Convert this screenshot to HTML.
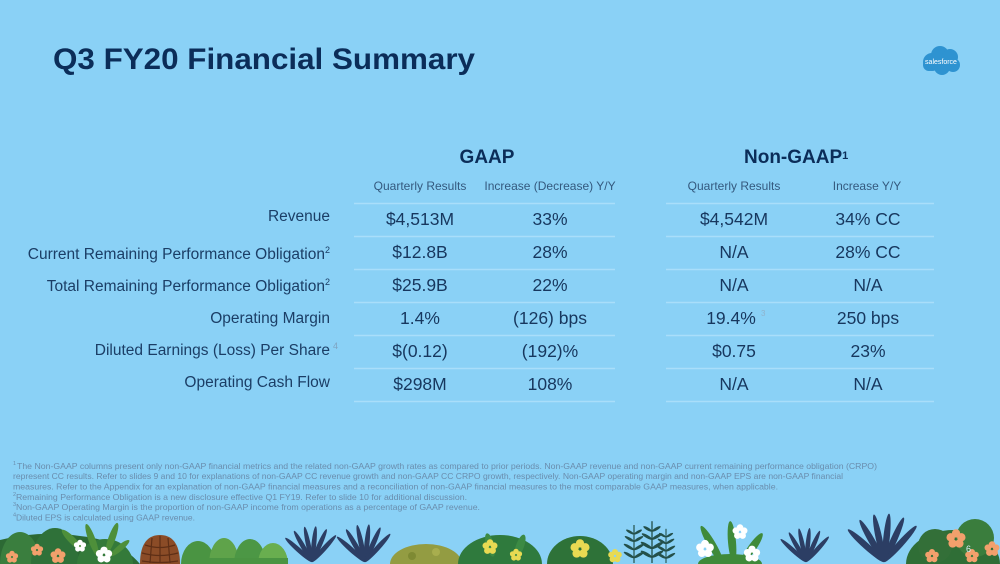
<!DOCTYPE html>
<html><head><meta charset="utf-8"><style>
html,body{margin:0;padding:0;width:1000px;height:564px;overflow:hidden;}
body{background:#8AD1F6;position:relative;}
svg{display:block;position:absolute;left:0;top:0;}
text{font-family:"Liberation Sans",sans-serif;}
</style></head><body>
<svg width="1000" height="564" viewBox="0 0 1000 564" xmlns="http://www.w3.org/2000/svg">
<defs>
<g id="fan">
<ellipse cx="0" cy="-18" rx="2.4" ry="18" transform="rotate(-48)"/>
<ellipse cx="0" cy="-18" rx="2.4" ry="18" transform="rotate(-30)"/>
<ellipse cx="0" cy="-18" rx="2.4" ry="18" transform="rotate(-12)"/>
<ellipse cx="0" cy="-18" rx="2.4" ry="18" transform="rotate(6)"/>
<ellipse cx="0" cy="-18" rx="2.4" ry="18" transform="rotate(24)"/>
<ellipse cx="0" cy="-18" rx="2.4" ry="18" transform="rotate(42)"/>
</g>
<g id="flw">
<circle cx="0" cy="-4" r="3"/><circle cx="3.8" cy="-1.2" r="3"/><circle cx="2.4" cy="3.2" r="3"/><circle cx="-2.4" cy="3.2" r="3"/><circle cx="-3.8" cy="-1.2" r="3"/>
</g>
<g id="fern">
<line x1="0" y1="0" x2="0" y2="-38" stroke="#24504A" stroke-width="1.2"/>
<g fill="#24504A">
<ellipse cx="-5" cy="-8" rx="6" ry="1.5" transform="rotate(30 -5 -8)"/>
<ellipse cx="5" cy="-8" rx="6" ry="1.5" transform="rotate(-30 5 -8)"/>
<ellipse cx="-5" cy="-16" rx="6" ry="1.5" transform="rotate(30 -5 -16)"/>
<ellipse cx="5" cy="-16" rx="6" ry="1.5" transform="rotate(-30 5 -16)"/>
<ellipse cx="-4.5" cy="-24" rx="5.5" ry="1.4" transform="rotate(30 -4.5 -24)"/>
<ellipse cx="4.5" cy="-24" rx="5.5" ry="1.4" transform="rotate(-30 4.5 -24)"/>
<ellipse cx="-4" cy="-31" rx="4.5" ry="1.3" transform="rotate(30 -4 -31)"/>
<ellipse cx="4" cy="-31" rx="4.5" ry="1.3" transform="rotate(-30 4 -31)"/>
</g>
</g>
</defs>

<!-- Title -->
<text x="53" y="69" font-size="30" font-weight="bold" fill="#0B2D59" textLength="422" lengthAdjust="spacingAndGlyphs">Q3 FY20 Financial Summary</text>

<!-- Logo -->
<g fill="#2E93D1">
<circle cx="932" cy="62" r="9"/><circle cx="940" cy="55" r="9"/><circle cx="950" cy="57" r="8"/><circle cx="953" cy="65" r="7"/><circle cx="942" cy="67" r="8"/><circle cx="929" cy="65" r="6"/>
</g>
<text x="941" y="64" font-size="7" fill="#ffffff" text-anchor="middle">salesforce</text>

<!-- Headers -->
<text x="487" y="163" font-size="19" font-weight="bold" fill="#0B2D59" text-anchor="middle">GAAP</text>
<text x="744" y="163" font-size="19" font-weight="bold" fill="#0B2D59">Non-GAAP<tspan font-size="11" dy="-4" font-weight="bold">1</tspan></text>

<g font-size="12" fill="#34597E" text-anchor="middle">
<text x="420" y="190">Quarterly Results</text>
<text x="550" y="190">Increase (Decrease) Y/Y</text>
<text x="734" y="190">Quarterly Results</text>
<text x="867" y="190">Increase Y/Y</text>
</g>

<!-- Row lines -->
<g stroke="#A9DEFA" stroke-width="1.5">
<line x1="354" y1="203.5" x2="615" y2="203.5"/><line x1="666" y1="203.5" x2="934" y2="203.5"/>
<line x1="354" y1="236.5" x2="615" y2="236.5"/><line x1="666" y1="236.5" x2="934" y2="236.5"/>
<line x1="354" y1="269.5" x2="615" y2="269.5"/><line x1="666" y1="269.5" x2="934" y2="269.5"/>
<line x1="354" y1="302.5" x2="615" y2="302.5"/><line x1="666" y1="302.5" x2="934" y2="302.5"/>
<line x1="354" y1="335.5" x2="615" y2="335.5"/><line x1="666" y1="335.5" x2="934" y2="335.5"/>
<line x1="354" y1="368.5" x2="615" y2="368.5"/><line x1="666" y1="368.5" x2="934" y2="368.5"/>
<line x1="354" y1="401.5" x2="615" y2="401.5"/><line x1="666" y1="401.5" x2="934" y2="401.5"/>
</g>

<!-- Labels -->
<g font-size="15.5" fill="#1B3E66" text-anchor="end">
<text x="330" y="221">Revenue</text>
<text x="330" y="259">Current Remaining Performance Obligation<tspan font-size="9" dy="-6">2</tspan></text>
<text x="330" y="291">Total Remaining Performance Obligation<tspan font-size="9" dy="-6">2</tspan></text>
<text x="330" y="323">Operating Margin</text>
<text x="330" y="355">Diluted Earnings (Loss) Per Share</text>
<text x="330" y="387">Operating Cash Flow</text>
</g>
<text x="333" y="349" font-size="9" fill="#7FA3C0">4</text>

<!-- Values -->
<g font-size="17.5" fill="#17375E" text-anchor="middle">
<text x="420" y="225">$4,513M</text><text x="550" y="225">33%</text>
<text x="734" y="225">$4,542M</text><text x="868" y="225">34% CC</text>
<text x="420" y="258">$12.8B</text><text x="550" y="258">28%</text>
<text x="734" y="258">N/A</text><text x="868" y="258">28% CC</text>
<text x="420" y="291">$25.9B</text><text x="550" y="291">22%</text>
<text x="734" y="291">N/A</text><text x="868" y="291">N/A</text>
<text x="420" y="324">1.4%</text><text x="550" y="324">(126) bps</text>
<text x="731" y="324">19.4%</text><text x="868" y="324">250 bps</text>
<text x="420" y="357">$(0.12)</text><text x="550" y="357">(192)%</text>
<text x="734" y="357">$0.75</text><text x="868" y="357">23%</text>
<text x="420" y="390">$298M</text><text x="550" y="390">108%</text>
<text x="734" y="390">N/A</text><text x="868" y="390">N/A</text>
</g>
<text x="761" y="316" font-size="8" fill="#8FB3CC">3</text>

<!-- Footnotes -->
<g font-size="8.6" fill="#6A8DAD">
<text x="13" y="465" font-size="5.5">1</text>
<text x="17" y="469" textLength="860" lengthAdjust="spacingAndGlyphs">The Non-GAAP columns present only non-GAAP financial metrics and the related non-GAAP growth rates as compared to prior periods. Non-GAAP revenue and non-GAAP current remaining performance obligation (CRPO)</text>
<text x="13" y="479" textLength="830" lengthAdjust="spacingAndGlyphs">represent CC results. Refer to slides 9 and 10 for explanations of non-GAAP CC revenue growth and non-GAAP CC CRPO growth, respectively. Non-GAAP operating margin and non-GAAP EPS are non-GAAP financial</text>
<text x="13" y="489.5" textLength="765" lengthAdjust="spacingAndGlyphs">measures. Refer to the Appendix for an explanation of non-GAAP financial measures and a reconciliation of non-GAAP financial measures to the most comparable GAAP measures, when applicable.</text>
<text x="13" y="496" font-size="5.5">2</text>
<text x="16" y="500" textLength="451" lengthAdjust="spacingAndGlyphs">Remaining Performance Obligation is a new disclosure effective Q1 FY19. Refer to slide 10 for additional discussion.</text>
<text x="13" y="506" font-size="5.5">3</text>
<text x="16" y="510" textLength="464" lengthAdjust="spacingAndGlyphs">Non-GAAP Operating Margin is the proportion of non-GAAP income from operations as a percentage of GAAP revenue.</text>
<text x="13" y="516.5" font-size="5.5">4</text>
<text x="16" y="520.5" textLength="179" lengthAdjust="spacingAndGlyphs">Diluted EPS is calculated using GAAP revenue.</text>
</g>

<!-- Plants (all kept within frame) -->
<path d="M0 564 L0 540 Q40 530 80 536 Q120 540 140 564 Z" fill="#2C6934"/>
<path d="M0 564 A20 32 0 0 1 40 564 Z" fill="#3A7E3E"/>
<path d="M31 564 A24 36 0 0 1 79 564 Z" fill="#2F7139"/>
<path d="M77 564 A28 25 0 0 1 133 564 Z" fill="#347A3A"/>
<g fill="#4E8F3A">
<ellipse cx="92" cy="540" rx="3.5" ry="17" transform="rotate(-20 92 540)"/>
<ellipse cx="112" cy="538" rx="3.5" ry="16" transform="rotate(20 112 538)"/>
<ellipse cx="72" cy="540" rx="3.5" ry="14" transform="rotate(-45 72 540)"/>
<ellipse cx="120" cy="548" rx="3" ry="12" transform="rotate(50 120 548)"/>
</g>
<g fill="#F2A06C">
<use href="#flw" transform="translate(12 557) scale(0.9)"/>
<use href="#flw" transform="translate(37 550) scale(0.9)"/>
<use href="#flw" transform="translate(58 556) scale(1.1)"/>
</g>
<g fill="#FFFFFF">
<use href="#flw" transform="translate(80 546) scale(0.9)"/>
<use href="#flw" transform="translate(104 555) scale(1.2)"/>
</g>
<path d="M140 564 C140 542 149 535 160 535 C171 535 180 542 180 564 Z" fill="#8B4C27"/>
<g stroke="#5E2F16" stroke-width="1.2" fill="none">
<path d="M145 545 Q160 550 175 545"/><path d="M142 553 Q160 558 178 553"/><path d="M142 561 Q160 564 178 561"/>
<path d="M152 538 L150 563"/><path d="M160 536 L160 563"/><path d="M168 538 L170 563"/>
</g>
<path d="M181 564 A17 23 0 0 1 215 564 Z" fill="#4A9442"/>
<path d="M209 564 A15 26 0 0 1 239 564 Z" fill="#5FA34A"/>
<path d="M234 564 A16 25 0 0 1 266 564 Z" fill="#4C9745"/>
<path d="M258 564 A15 21 0 0 1 288 564 Z" fill="#69AE4F"/>
<rect x="182" y="558" width="106" height="6" fill="#4A9442"/>
<g fill="#2C3E64">
<use href="#fan" transform="translate(312 562)"/>
<use href="#fan" transform="translate(365 562) scale(1.05)"/>
<use href="#fan" transform="translate(806 562) scale(0.95)"/>
<use href="#fan" transform="translate(884 562) scale(1.35)"/>
</g>
<path d="M390 564 A36 20 0 0 1 462 564 Z" fill="#939C42"/>
<circle cx="412" cy="556" r="4" fill="#7E8A33"/><circle cx="436" cy="552" r="4" fill="#A8AE4E"/>
<path d="M458 564 A42 29 0 0 1 542 564 Z" fill="#2F7A3D"/>
<ellipse cx="490" cy="545" rx="4" ry="12" fill="#3C8A44" transform="rotate(-15 490 545)"/>
<ellipse cx="520" cy="546" rx="4" ry="12" fill="#3C8A44" transform="rotate(20 520 546)"/>
<path d="M547 564 A33 28 0 0 1 613 564 Z" fill="#2E7238"/>
<g fill="#E8DA52">
<use href="#flw" transform="translate(490 547) scale(1.1)"/>
<use href="#flw" transform="translate(516 555) scale(0.9)"/>
<use href="#flw" transform="translate(580 549) scale(1.4)"/>
<use href="#flw" transform="translate(615 556) scale(1.0)"/>
</g>
<use href="#fern" transform="translate(634 563)"/>
<use href="#fern" transform="translate(652 563) scale(1.1)"/>
<use href="#fern" transform="translate(666 563) scale(0.9)"/>
<g fill="#3F8A3A">
<ellipse cx="712" cy="545" rx="4" ry="22" transform="rotate(-30 712 545)"/>
<ellipse cx="732" cy="542" rx="4" ry="21" transform="rotate(-5 732 542)"/>
<ellipse cx="752" cy="548" rx="4" ry="18" transform="rotate(35 752 548)"/>
<path d="M698 564 A32 10 0 0 1 762 564 Z"/>
</g>
<g fill="#FFFFFF">
<use href="#flw" transform="translate(705 549) scale(1.3)"/>
<use href="#flw" transform="translate(740 532) scale(1.1)"/>
<use href="#flw" transform="translate(752 554) scale(1.2)"/>
</g>
<path d="M906 564 A47 34 0 0 1 1000 564 Z" fill="#2F6E36"/>
<circle cx="975" cy="538" r="19" fill="#3A7D3D"/>
<circle cx="935" cy="546" r="17" fill="#336F38"/>
<g fill="#F2A06C">
<use href="#flw" transform="translate(956 539) scale(1.4)"/>
<use href="#flw" transform="translate(972 556) scale(1.0)"/>
<use href="#flw" transform="translate(932 556) scale(1.0)"/>
<use href="#flw" transform="translate(992 549) scale(1.1)"/>
</g>
<text x="966" y="552" font-size="9" fill="#DDEEF8">6</text>
</svg>
</body></html>
